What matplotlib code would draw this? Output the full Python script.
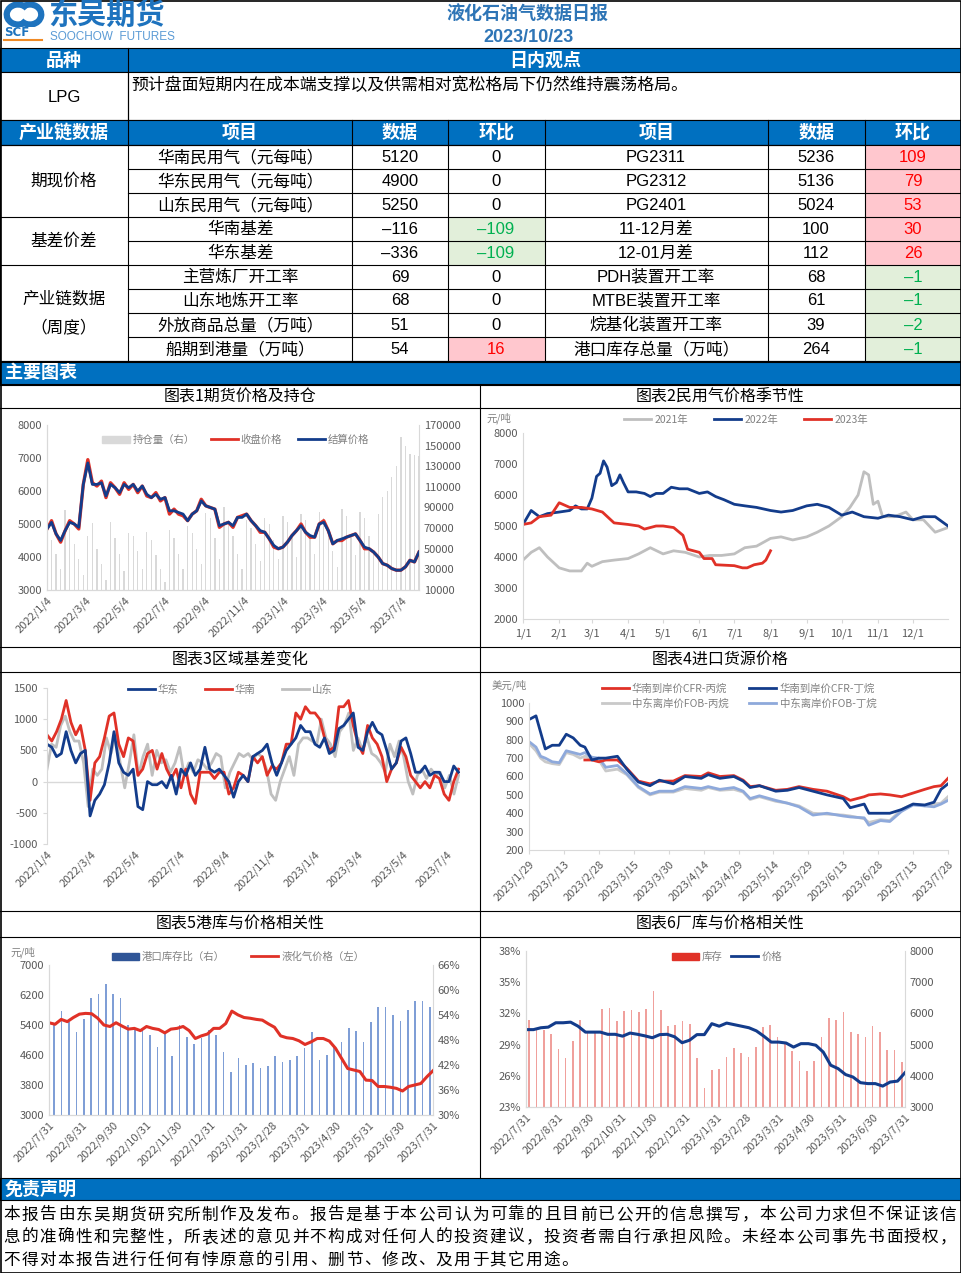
import matplotlib

matplotlib.use('Agg')
import matplotlib.pyplot as plt
from matplotlib.patches import Rectangle, Arc, Patch
from matplotlib.lines import Line2D
import numpy as np
import pandas as pd

plt.rcParams['font.family'] = ['Noto Sans CJK SC', 'DejaVu Sans']
plt.rcParams['axes.unicode_minus'] = False

W, H = 961, 1273
BLUE = '#0070C0'
DARK = '#133C8B'
RED = '#E03127'
GRAY = '#BFBFBF'
TICK = '#595959'
TFONT = ['Liberation Sans', 'Noto Sans CJK SC']

# ---------------- table data ----------------
report_title = '液化石油气数据日报'
report_date = '2023/10/23'
outlook = '预计盘面短期内在成本端支撑以及供需相对宽松格局下仍然维持震荡格局。'
groups = [('期现价格', 3), ('基差价差', 2), ('产业链数据\n（周度）', 4)]
items_left = ['华南民用气（元每吨）', '华东民用气（元每吨）', '山东民用气（元每吨）', '华南基差', '华东基差',
              '主营炼厂开工率', '山东地炼开工率', '外放商品总量（万吨）', '船期到港量（万吨）']
values_left = [5120, 4900, 5250, -116, -336, 69, 68, 51, 54]
change_left = [0, 0, 0, -109, -109, 0, 0, 0, 16]
items_right = ['PG2311', 'PG2312', 'PG2401', '11-12月差', '12-01月差', 'PDH装置开工率', 'MTBE装置开工率',
               '烷基化装置开工率', '港口库存总量（万吨）']
values_right = [5236, 5136, 5024, 100, 112, 68, 61, 39, 264]
change_right = [109, 79, 53, 30, 26, -1, -1, -2, -1]
disclaimer = ['本报告由东吴期货研究所制作及发布。报告是基于本公司认为可靠的且目前已公开的信息撰写，本公司力求但不保证该信',
              '息的准确性和完整性，所表述的意见并不构成对任何人的投资建议，投资者需自行承担风险。未经本公司事先书面授权，',
              '不得对本报告进行任何有悖原意的引用、删节、修改、及用于其它用途。']

# ---------------- chart 1: futures price & open interest (weekly) ----------------
settle = [4850, 5050, 4700, 4500, 4800, 5050, 5000, 4900, 6200, 6850, 6200, 6200, 6250, 5850, 6200, 6100,
          5950, 6200, 6100, 6200, 6000, 6150, 5900, 5800, 5900, 5750, 5800, 5400, 5400, 5350, 5300, 5100,
          5300, 5400, 5700, 5550, 5500, 5450, 4950, 5000, 5050, 4950, 5200, 5200, 5300, 5100, 4950, 4800,
          4750, 4550, 4350, 4250, 4300, 4450, 4650, 4800, 4950, 4750, 4650, 4600, 5000, 5050, 4800, 4400,
          4500, 4550, 4600, 4650, 4700, 4500, 4300, 4250, 4150, 4000, 3800, 3750, 3650, 3600, 3600, 3700,
          3900, 3850, 4150]
close = [4850, 5100, 4700, 4450, 4800, 5100, 5000, 4850, 6200, 6950, 6250, 6150, 6300, 5800, 6250, 6100,
         5900, 6250, 6050, 6200, 5950, 6150, 5850, 5800, 5950, 5700, 5800, 5300, 5450, 5300, 5250, 5100,
         5300, 5400, 5750, 5550, 5500, 5450, 4900, 5000, 5050, 4900, 5200, 5250, 5300, 5100, 4950, 4750,
         4750, 4550, 4300, 4250, 4300, 4450, 4650, 4800, 5000, 4750, 4600, 4600, 5000, 5100, 4800, 4400,
         4500, 4500, 4600, 4650, 4700, 4500, 4250, 4250, 4150, 4000, 3800, 3750, 3650, 3600, 3600, 3700,
         3900, 3850, 4150]
open_interest = [65000, 58000, 45000, 30000, 88000, 70000, 55000, 40000, 25000, 62000, 75000, 50000, 35000,
                 20000, 76000, 60000, 45000, 28000, 65000, 62000, 48000, 30000, 66000, 58000, 44000, 30000,
                 18000, 68000, 60000, 45000, 30000, 72000, 65000, 50000, 35000, 85000, 80000, 60000, 40000,
                 90000, 78000, 62000, 45000, 30000, 78000, 70000, 55000, 38000, 80000, 74000, 58000, 40000,
                 82000, 76000, 60000, 42000, 84000, 78000, 62000, 45000, 86000, 80000, 66000, 48000, 32000,
                 89000, 82000, 64000, 44000, 86000, 80000, 62000, 45000, 84000, 100000, 106000, 120000,
                 130000, 158000, 150000, 142000, 141000, 140000]
ticks_1 = ['2022-01-04', '2022-03-04', '2022-05-04', '2022-07-04', '2022-09-04', '2022-11-04',
           '2023-01-04', '2023-03-04', '2023-05-04', '2023-07-04']

# ---------------- chart 2: seasonal civil gas price ----------------
days_2021 = ['1/1', '1/8', '1/15', '1/22', '2/1', '2/10', '2/20', '2/25', '3/1', '3/10', '3/20', '4/1', '4/10',
             '4/20', '5/1', '5/10', '5/20', '6/1', '6/10', '6/20', '7/1', '7/10', '7/20', '8/1', '8/10', '8/20',
             '9/1', '9/10', '9/20', '10/1', '10/8', '10/15', '10/20', '10/24', '10/28', '11/1', '11/5', '11/15',
             '11/25', '12/1', '12/10', '12/20', '12/31']
price_2021 = [3900, 4150, 4300, 4000, 3650, 3550, 3550, 3800, 3700, 3850, 3900, 3950, 4100, 4300, 4100, 4200,
              4150, 4000, 4050, 4050, 4100, 4300, 4350, 4600, 4650, 4550, 4650, 4800, 5000, 5300, 5600, 6000,
              6750, 6650, 5700, 5800, 5300, 5300, 5450, 5200, 5200, 4800, 4950]
days_2022 = ['1/1', '1/8', '1/15', '1/22', '2/1', '2/10', '2/15', '2/20', '2/25', '3/1', '3/5', '3/8', '3/11',
             '3/14', '3/18', '3/22', '3/25', '3/28', '4/1', '4/8', '4/15', '4/20', '4/25', '5/1', '5/8', '5/15',
             '5/22', '6/1', '6/8', '6/15', '6/22', '7/1', '7/10', '7/20', '8/1', '8/10', '8/20', '9/1', '9/10',
             '9/20', '10/1', '10/10', '10/20', '11/1', '11/10', '11/20', '12/1', '12/10', '12/20', '12/31']
price_2022 = [5050, 5500, 5300, 5400, 5450, 5500, 5650, 5550, 5550, 5900, 6600, 6700, 7100, 6900, 6300, 6400,
              6650, 6400, 6100, 6100, 6050, 5950, 6050, 6050, 6250, 6200, 6200, 6050, 6100, 5950, 5850, 5700,
              5650, 5600, 5500, 5450, 5500, 5650, 5700, 5600, 5350, 5450, 5300, 5250, 5350, 5300, 5200, 5300,
              5300, 5000]
days_2023 = ['1/1', '1/8', '1/15', '1/25', '2/1', '2/10', '2/20', '3/1', '3/10', '3/20', '4/1', '4/10', '4/15',
             '4/25', '5/1', '5/10', '5/18', '5/22', '6/1', '6/5', '6/12', '6/15', '7/1', '7/8', '7/12', '7/18',
             '7/25', '7/28', '8/1']
price_2023 = [5050, 5100, 5300, 5350, 5750, 5600, 5600, 5550, 5450, 5100, 5050, 5000, 4900, 5000, 5000, 4950,
              4700, 4250, 4150, 3950, 3950, 3750, 3720, 3650, 3650, 3750, 3800, 3900, 4200]
month_ticks = ['1/1', '2/1', '3/1', '4/1', '5/1', '6/1', '7/1', '8/1', '9/1', '10/1', '11/1', '12/1']

# ---------------- chart 3: regional basis ----------------
basis_east = [600, 550, 400, 450, 800, 500, 300, 450, 500, -550, -300, -200, -50, 300, 800, 300, 150, 100, 200,
              -400, -450, 0, -50, -50, 0, -100, 100, -200, 200, 100, 300, 100, 200, 550, 200, 150, 200, 100, 0,
              -250, 0, 100, 0, 400, 450, 500, 600, 300, 100, 300, 500, 600, 700, 900, 800, 800, 600, 550, 700,
              450, 500, 850, 900, 1000, 1100, 550, 500, 800, 950, 800, 750, 500, 200, 300, 650, 700, 450, 150,
              150, 250, 100, 150, 150, 0, 0, 250, 150]
basis_south = [750, 650, 800, 1000, 1300, 950, 750, 900, 500, -300, 300, 400, 700, 1050, 1100, 600, 400, 700,
               650, 100, 200, 450, 500, 200, 450, 200, 50, 200, -100, 200, -200, -350, 150, 150, 150, 50, 150,
               150, -200, -100, 150, 100, 0, 400, 300, 400, 100, 250, 200, 300, 600, 600, 1100, 1000, 1200,
               1100, 1100, 1000, 700, 500, 550, 1200, 1200, 1300, 900, 600, 450, 900, 700, 600, 400, 0, 200,
               300, 550, 400, 100, 0, -100, 0, -100, 100, 50, -200, -300, 0, 200]
basis_shandong = [200, 600, 550, 900, 1050, 800, 650, 650, 300, -400, 200, 100, 200, 700, 450, 750, 300, -100,
                  300, 750, 100, 400, 600, 100, 500, 300, 350, 150, 300, 550, 100, 300, 150, 350, 300, 200, 300,
                  450, 400, -100, 150, 300, 450, 400, 450, 350, 450, 400, 200, -200, -300, 0, 200, 400, 100,
                  600, 700, 700, 650, 600, 1000, 700, 600, 400, 800, 900, 1100, 500, 700, 500, 700, 450, 400,
                  300, 150, 600, 400, 650, 400, 0, -200, 100, 200, 50, 200, 100, 150, -100, 100, -200, 100]

# ---------------- chart 4: import prices ----------------
days_4 = ['1/29', '2/1', '2/3', '2/5', '2/8', '2/11', '2/14', '2/17', '2/20', '2/22', '2/25', '2/28', '3/3',
          '3/8', '3/12', '3/17', '3/22', '3/26', '4/1', '4/6', '4/13', '4/16', '4/21', '4/27', '5/1', '5/4',
          '5/8', '5/15', '5/20', '5/25', '5/31', '6/6', '6/13', '6/16', '6/22', '6/24', '6/29', '7/3', '7/8',
          '7/13', '7/18', '7/22', '7/25', '7/28']
cfr_propane = [np.nan, np.nan, np.nan, np.nan, np.nan, np.nan, np.nan, np.nan, np.nan, 690, 690, 680, 690, 690,
               645, 575, 560, 575, 575, 605, 600, 620, 600, 605, 580, 545, 550, 525, 530, 545, 530, 520, 490,
               470, 490, 500, 505, 500, 490, 510, 530, 545, 550, 590]
cfr_butane = [910, 930, 840, 750, 770, 770, 830, 810, 770, 760, 690, 700, 700, 710, 640, 570, 550, 580, 560,
              600, 590, 610, 590, 600, 575, 540, 550, 520, 525, 540, 520, 500, 480, 430, 450, 400, 400, 400,
              420, 450, 445, 460, 530, 560]
fob_propane = [780, 740, 700, 680, 670, 665, 730, 720, 700, 710, 700, 690, 630, 640, 610, 540, 500, 515, 515,
               535, 525, 540, 525, 530, 515, 475, 490, 465, 455, 440, 400, 395, 390, 385, 370, 350, 365, 360,
               420, 450, 440, 450, 455, 490]
fob_butane = [790, 760, 710, 700, 680, 675, 740, 730, 720, 730, 705, 700, 650, 660, 615, 545, 505, 520, 520,
              545, 535, 545, 530, 540, 520, 480, 495, 470, 455, 435, 390, 400, 385, 380, 375, 335, 360, 355,
              410, 445, 440, 435, 450, 470]

# ---------------- chart 5: port inventory vs price ----------------
port_ratio = [52.0, 55.0, 52.4, 50.0, 53.0, 58.0, 59.0, 61.5, 59.0, 58.0, 51.6, 50.4, 50.4, 49.2, 46.4, 50.0,
              44.2, 51.6, 48.6, 47.0, 48.4, 50.4, 49.2, 45.0, 40.2, 43.6, 42.0, 42.4, 41.2, 41.8, 44.2, 42.8,
              43.2, 44.2, 46.0, 49.8, 43.2, 44.4, 46.4, 47.6, 50.8, 50.2, 47.4, 52.2, 55.8, 56.0, 54.0, 52.6,
              55.2, 57.4, 57.4, 55.8]
lpg_price = [5460, 5420, 5550, 5490, 5600, 5690, 5710, 5700, 5580, 5400, 5360, 5460, 5370, 5290, 5310, 5250,
             5360, 5310, 5280, 5190, 5290, 5310, 5360, 5250, 5040, 5110, 5160, 5310, 5310, 5440, 5770, 5670,
             5600, 5580, 5550, 5530, 5430, 5340, 5110, 5060, 5040, 4980, 4880, 4950, 5040, 5040, 4970, 4780,
             4510, 4240, 4200, 4160, 3930, 3920, 3760, 3760, 3740, 3710, 3640, 3760, 3800, 3840, 4020, 4180]
ticks_56 = ['2022-07-31', '2022-08-31', '2022-09-30', '2022-10-31', '2022-11-30', '2022-12-31', '2023-01-31',
            '2023-02-28', '2023-03-31', '2023-04-30', '2023-05-31', '2023-06-30', '2023-07-31']

# ---------------- chart 6: plant inventory vs price ----------------
plant_stock = [31.4, 30.5, 30.4, 30.0, 28.6, 27.7, 29.3, 31.4, 30.3, 30.1, 32.4, 32.5, 31.3, 32.2, 32.3, 32.1,
               32.4, 34.2, 32.3, 30.8, 30.9, 31.3, 31.0, 27.7, 24.8, 26.6, 26.7, 27.8, 28.7, 28.2, 27.8, 28.8,
               30.7, 30.9, 29.7, 29.1, 28.4, 27.4, 26.5, 27.4, 29.7, 31.6, 31.4, 32.1, 30.2, 30.0, 29.7, 30.8,
               30.2, 28.5, 28.5, 27.3]
plant_price = [5480, 5480, 5540, 5560, 5700, 5700, 5720, 5590, 5400, 5400, 5400, 5330, 5330, 5270, 5370, 5330,
               5280, 5220, 5320, 5330, 5250, 5060, 5140, 5320, 5320, 5670, 5590, 5690, 5640, 5590, 5540, 5440,
               5270, 5080, 5080, 5050, 4920, 5030, 5030, 4980, 4760, 4340, 4230, 4040, 3960, 3780, 3750, 3750,
               3670, 3800, 3830, 4100]


fig = plt.figure(figsize=(W / 100, H / 100), dpi=100)


def rect(x0, y0, x1, y1, fc='none', ec='black', lw=0.8):
    fig.add_artist(Rectangle((x0 / W, 1 - y1 / H), (x1 - x0) / W, (y1 - y0) / H,
                             transform=fig.transFigure, facecolor=fc, edgecolor=ec, linewidth=lw))


def line(x0, y0, x1, y1, color='black', lw=0.8):
    fig.add_artist(Line2D([x0 / W, x1 / W], [1 - y0 / H, 1 - y1 / H], transform=fig.transFigure,
                          color=color, linewidth=lw))


def put(x, y, s, **kw):
    kw.setdefault('va', 'center')
    fig.text(x / W, 1 - y / H, s, **kw)


def px_axes(x0, y0, x1, y1):
    return fig.add_axes([x0 / W, 1 - y1 / H, (x1 - x0) / W, (y1 - y0) / H])


def num(v):
    return str(v).replace('-', '–')


def dstr(d):
    return f'{d.year}/{d.month}/{d.day}'


# ---------------- header ----------------
logo_ax = px_axes(3, 2, 45, 27)
logo_ax.set_xlim(0, 1.4)
logo_ax.set_ylim(0, 1)
logo_ax.axis('off')
logo_ax.add_patch(Arc((0.5, 0.5), 0.75, 0.8, theta1=40, theta2=300, lw=4.5, color='#1E73BE'))
logo_ax.add_patch(Arc((0.9, 0.5), 0.75, 0.8, theta1=220, theta2=120, lw=4.5, color='#1E73BE'))
put(4, 33, 'SCF', fontsize=8.5, fontweight='heavy', color='#1E73BE', family='DejaVu Sans')
line(4, 40, 42, 40, color='#F08A24', lw=1.5)
put(48, 15, '东吴期货', fontsize=21, fontweight='bold', color='#1E73BE')
put(50, 37, 'SOOCHOW  FUTURES', fontsize=8.5, color='#5B9BD5', family='Liberation Sans')
put(528, 14, report_title, fontsize=13, fontweight='bold', color='#2E75B6', ha='center')
put(528, 37, report_date, fontsize=13, fontweight='bold', color='#2E75B6', ha='center', family=TFONT)

# ---------------- outlook rows ----------------
rect(0, 48, W, 72, fc=BLUE)
put(64, 60, '品种', fontsize=13, fontweight='bold', color='white', ha='center')
put(545, 60, '日内观点', fontsize=13, fontweight='bold', color='white', ha='center')
line(128, 48, 128, 120)
rect(0, 72, W, 120, fc='white')
line(128, 72, 128, 120)
put(64, 97, 'LPG', fontsize=12, ha='center', family=TFONT)
put(131, 85, outlook, fontsize=12.2)

# ---------------- data table ----------------
cols = [0, 128, 352, 448, 545, 768, 865, W]
rect(0, 120, W, 145, fc=BLUE)
for c0, c1, lab in zip(cols[:-1], cols[1:], ['产业链数据', '项目', '数据', '环比', '项目', '数据', '环比']):
    put((c0 + c1) / 2, 132.5, lab, fontsize=13, fontweight='bold', color='white', ha='center')

row_h = 24
top = 145
rect(0, top, W, top + 9 * row_h, fc='white')
for i in range(9):
    y0 = top + i * row_h
    yc = y0 + row_h / 2
    for cx0, cx1, ch in [(448, 545, change_left[i]), (865, W, change_right[i])]:
        if ch > 0:
            rect(cx0, y0, cx1, y0 + row_h, fc='#FFC7CE', ec='none')
        elif ch < 0:
            rect(cx0, y0, cx1, y0 + row_h, fc='#E2EFDA', ec='none')
    put(240, yc, items_left[i], fontsize=12, ha='center', family=TFONT)
    put(400, yc, num(values_left[i]), fontsize=12, ha='center', family=TFONT)
    put(496, yc, num(change_left[i]), fontsize=12, ha='center', family=TFONT,
        color='#FF0000' if change_left[i] > 0 else ('#00B050' if change_left[i] < 0 else 'black'))
    put(656, yc, items_right[i], fontsize=12, ha='center', family=TFONT)
    put(816, yc, num(values_right[i]), fontsize=12, ha='center', family=TFONT)
    put(913, yc, num(change_right[i]), fontsize=12, ha='center', family=TFONT,
        color='#FF0000' if change_right[i] > 0 else ('#00B050' if change_right[i] < 0 else 'black'))
    line(128, y0, W, y0)

y = top
for name, n in groups:
    line(0, y, 128, y)
    put(64, y + n * row_h / 2, name, fontsize=12, ha='center', linespacing=1.9)
    y += n * row_h
line(0, y, W, y)
for c in cols[1:-1]:
    line(c, 120, c, y)

# ---------------- chart section ----------------
rect(0, 362, W, 384, fc=BLUE)
put(5, 373, '主要图表', fontsize=13, fontweight='bold', color='white')
for yt, ya in [(385, 408), (647, 672), (911, 937)]:
    line(0, yt, W, yt)
    line(0, ya, W, ya)
line(480, 385, 480, 1178)
chart_titles = ['图表1期货价格及持仓', '图表2民用气价格季节性', '图表3区域基差变化',
                '图表4进口货源价格', '图表5港库与价格相关性', '图表6厂库与价格相关性']
for k, yc in enumerate([397, 397, 660, 660, 924, 924]):
    put(240 if k % 2 == 0 else 720, yc, chart_titles[k], fontsize=11.5, ha='center')


def style(ax, right=False):
    ax.spines['top'].set_visible(False)
    ax.spines['right'].set_visible(right)
    for s in ['left', 'bottom', 'right']:
        ax.spines[s].set_color('#D9D9D9')
    ax.tick_params(colors=TICK, labelsize=8, length=0)
    ax.patch.set_visible(False)


def legend(ax, handles, labels, cx, cy, ncol, **kw):
    ax.legend(handles, labels, loc='center', bbox_to_anchor=(cx / W, 1 - cy / H),
              bbox_transform=fig.transFigure, ncol=ncol, frameon=False, fontsize=7.5,
              labelcolor='#808080', handlelength=2.6, handletextpad=0.3, **kw)


def date_ticks(ax, ticks):
    t = pd.to_datetime(ticks)
    ax.set_xticks(t)
    ax.set_xticklabels([dstr(d) for d in t], rotation=45, ha='right', rotation_mode='anchor')


# chart 1
ax1 = px_axes(47, 425, 419, 590)
ax1b = ax1.twinx()
d1 = pd.date_range('2022-01-04', '2023-07-31', periods=len(settle))
d1b = pd.date_range('2022-01-04', '2023-07-31', periods=len(open_interest))
ax1b.bar(d1b, open_interest, width=2, color='#D9D9D9')
ax1.plot(d1, close, color=RED, lw=2.4)
ax1.plot(d1, settle, color=DARK, lw=2)
ax1.set_zorder(ax1b.get_zorder() + 1)
ax1.set_ylim(3000, 8000)
ax1b.set_ylim(10000, 170000)
ax1b.set_yticks(range(10000, 170001, 20000))
ax1.set_xlim(pd.Timestamp('2022-01-04'), pd.Timestamp('2023-07-31'))
date_ticks(ax1, ticks_1)
style(ax1)
style(ax1b, right=True)
ax1b.patch.set_visible(True)
legend(ax1, [Patch(color='#D9D9D9'), Line2D([], [], color=RED, lw=2), Line2D([], [], color=DARK, lw=2)],
       ['持仓量（右）', '收盘价格', '结算价格'], 236, 440, 3, columnspacing=1.5)

# chart 2
ax2 = px_axes(523, 433, 948, 619)
for days, vals, col in [(days_2021, price_2021, GRAY), (days_2022, price_2022, DARK), (days_2023, price_2023, RED)]:
    ax2.plot(pd.to_datetime(['2022/' + d for d in days]), vals, color=col, lw=2)
ax2.set_ylim(2000, 8000)
ax2.set_xlim(pd.Timestamp('2022-01-01'), pd.Timestamp('2022-12-31'))
mt = pd.to_datetime(['2022/' + d for d in month_ticks])
ax2.set_xticks(mt)
ax2.set_xticklabels(month_ticks)
style(ax2)
ax2.tick_params(axis='x', length=3, color='#D9D9D9')
ax2.text(-0.085, 1.06, '元/吨', transform=ax2.transAxes, fontsize=7.5, color='#808080')
legend(ax2, [Line2D([], [], color=c, lw=2) for c in [GRAY, DARK, RED]], ['2021年', '2022年', '2023年'],
       746, 420, 3, columnspacing=2.5)

# chart 3
ax3 = px_axes(47, 688, 460, 844)
for vals, col in [(basis_shandong, GRAY), (basis_south, RED), (basis_east, DARK)]:
    ax3.plot(pd.date_range('2022-01-04', '2023-07-20', periods=len(vals)), vals, color=col, lw=2)
ax3.axhline(0, color='#D9D9D9', lw=1, zorder=0)
ax3.set_ylim(-1000, 1500)
ax3.set_yticks(range(-1000, 1501, 500))
ax3.set_xlim(pd.Timestamp('2022-01-04'), pd.Timestamp('2023-07-22'))
date_ticks(ax3, ticks_1)
style(ax3)
ax3.spines['bottom'].set_visible(False)
ax3.tick_params(axis='y', length=3, color='#D9D9D9')
h3 = [Line2D([], [], color=c, lw=2) for c in [DARK, RED, GRAY]]
legend(ax3, h3, ['华东', '华南', '山东'], 230, 690, 3, columnspacing=2.5)

# chart 4
ax4 = px_axes(529, 703, 948, 850)
d4 = pd.to_datetime(['2023/' + d for d in days_4])
ax4.plot(d4, fob_propane, color='#C9C9C9', lw=2)
ax4.plot(d4, fob_butane, color='#8EA9DB', lw=2)
ax4.plot(d4, cfr_propane, color=RED, lw=2)
ax4.plot(d4, cfr_butane, color=DARK, lw=2)
ax4.set_ylim(200, 1000)
ax4.set_yticks(range(200, 1001, 100))
ax4.set_xlim(pd.Timestamp('2023-01-29'), pd.Timestamp('2023-07-28'))
date_ticks(ax4, pd.date_range('2023-01-29', '2023-07-28', freq='15D'))
style(ax4)
ax4.tick_params(axis='x', length=3, color='#D9D9D9')
ax4.text(-0.09, 1.1, '美元/吨', transform=ax4.transAxes, fontsize=7.5, color='#808080')
h4 = [Line2D([], [], color=c, lw=2) for c in [RED, '#C9C9C9', DARK, '#8EA9DB']]
legend(ax4, h4, ['华南到岸价CFR-丙烷', '中东离岸价FOB-丙烷', '华南到岸价CFR-丁烷', '中东离岸价FOB-丁烷'],
       739, 696, 2, columnspacing=2.0, labelspacing=0.45)

# chart 5
ax5 = px_axes(49, 965, 433, 1115)
ax5b = ax5.twinx()
ax5b.bar(pd.date_range('2022-08-05', '2023-07-28', periods=len(port_ratio)), port_ratio, width=1.6,
         color='#7F9ED6')
ax5.plot(pd.date_range('2022-07-31', '2023-07-31', periods=len(lpg_price)), lpg_price, color=RED, lw=2.2)
ax5.set_zorder(ax5b.get_zorder() + 1)
ax5.set_ylim(3000, 7000)
ax5.set_yticks(range(3000, 7001, 800))
ax5b.set_ylim(30, 66)
ax5b.set_yticks(range(30, 67, 6))
ax5b.set_yticklabels([f'{v}%' for v in range(30, 67, 6)])
ax5.set_xlim(pd.Timestamp('2022-07-31'), pd.Timestamp('2023-07-31'))
date_ticks(ax5, ticks_56)
style(ax5)
style(ax5b, right=True)
ax5b.patch.set_visible(True)
ax5.text(-0.1, 1.06, '元/吨', transform=ax5.transAxes, fontsize=7.5, color='#808080')
legend(ax5, [Patch(color='#2F5597'), Line2D([], [], color=RED, lw=2)], ['港口库存比（右）', '液化气价格（左）'],
       238, 957, 2, columnspacing=2.5)

# chart 6
ax6 = px_axes(526, 951, 905, 1107)
ax6.bar(pd.date_range('2022-08-03', '2023-07-28', periods=len(plant_stock)), plant_stock, width=1.6,
        color='#F0A09C')
ax6b = ax6.twinx()
ax6b.plot(pd.date_range('2022-07-31', '2023-07-31', periods=len(plant_price)), plant_price, color=DARK, lw=2.2)
ax6.set_ylim(23, 38)
ax6.set_yticks(range(23, 39, 3))
ax6.set_yticklabels([f'{v}%' for v in range(23, 39, 3)])
ax6b.set_ylim(3000, 8000)
ax6.set_xlim(pd.Timestamp('2022-07-31'), pd.Timestamp('2023-07-31'))
date_ticks(ax6, ticks_56)
style(ax6)
style(ax6b, right=True)
legend(ax6b, [Patch(color=RED), Line2D([], [], color=DARK, lw=2)], ['库存', '价格'], 727, 957, 2,
       columnspacing=0.8)

# ---------------- disclaimer ----------------
rect(0, 1178, W, 1200, fc=BLUE)
put(5, 1189, '免责声明', fontsize=13, fontweight='bold', color='white')
step = (957 - 3) / len(disclaimer[0])
for k, text_line in enumerate(disclaimer):
    st = (957 - 3) / len(text_line) if k < 2 else step
    for j, ch in enumerate(text_line):
        put(3 + j * st + st / 2, 1215 + k * 22.5, ch, fontsize=12, ha='center')

rect(0.5, 0.5, W - 0.5, H - 0.5, lw=1.2)
fig.savefig('out.png', dpi=100)
